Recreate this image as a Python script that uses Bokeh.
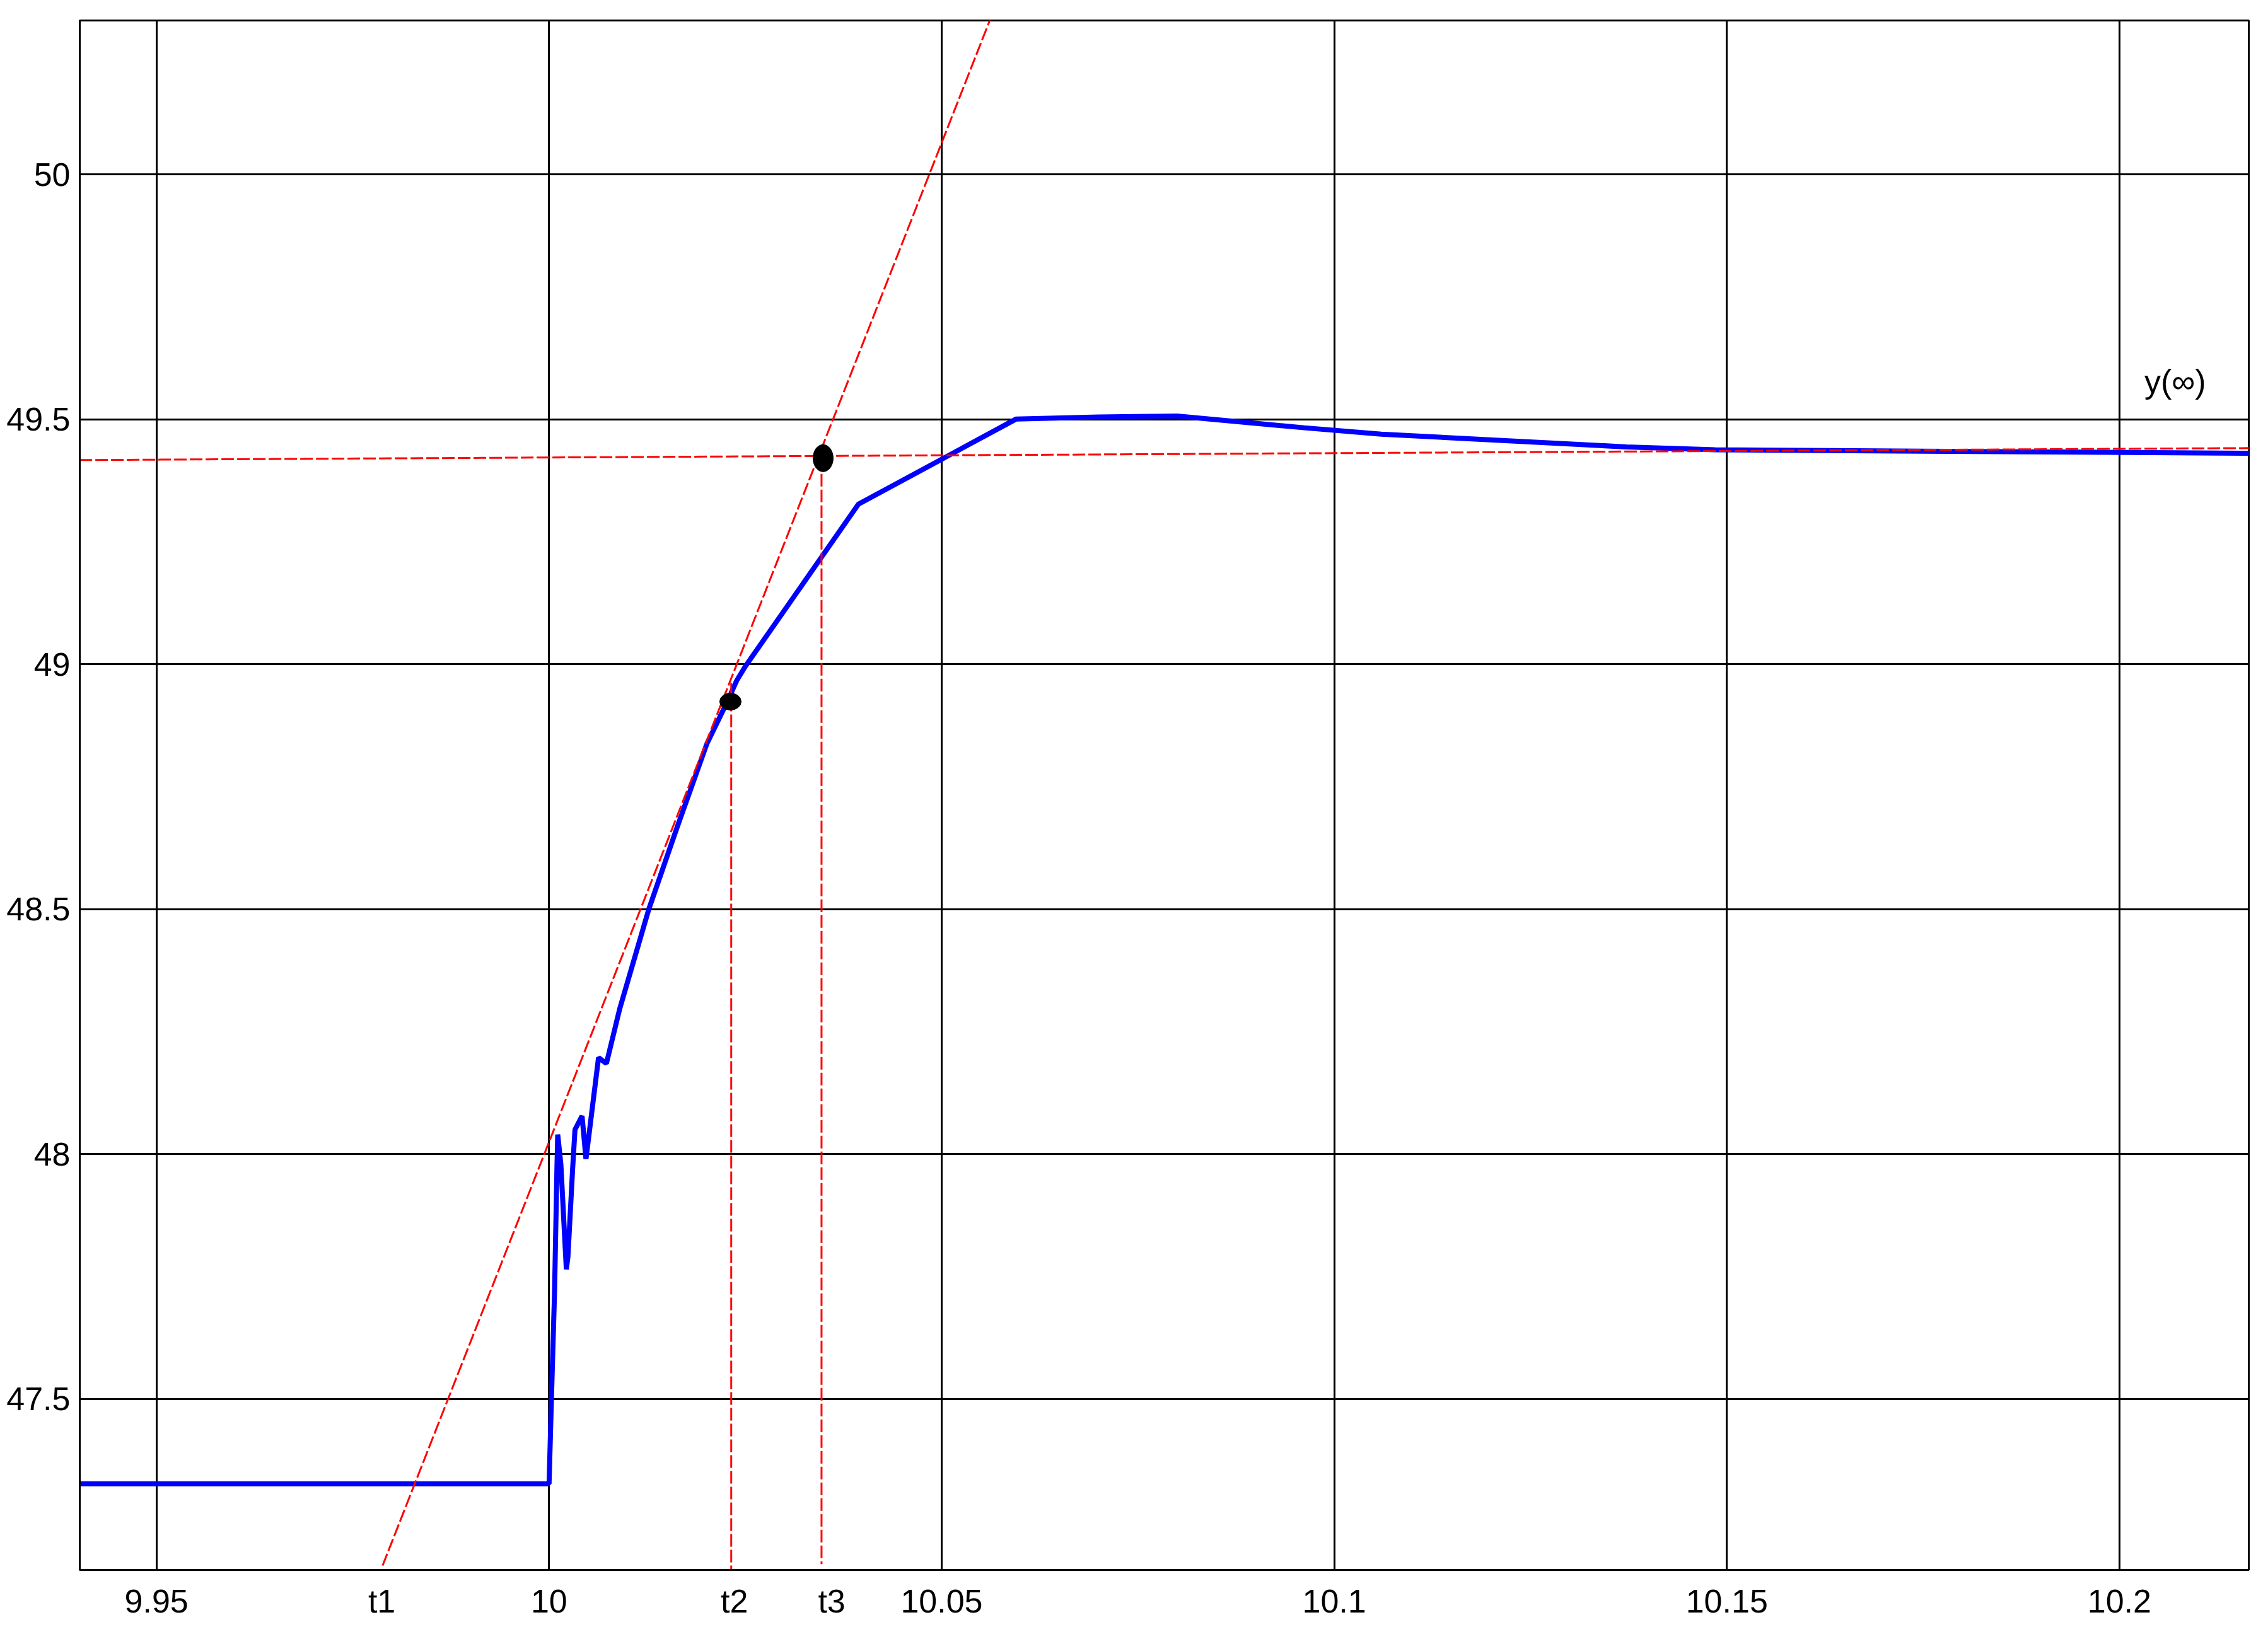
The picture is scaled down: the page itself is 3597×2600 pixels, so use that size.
from bokeh.plotting import figure
from bokeh.models import FixedTicker, Range1d
from bokeh.core.properties import value
from bokeh.embed import file_html
from bokeh.resources import INLINE

FONT = "Liberation Sans"

# ---- data ----
x_ticks = [9.95, 10.0, 10.05, 10.1, 10.15, 10.2]
x_tick_labels = ["9.95", "10", "10.05", "10.1", "10.15", "10.2"]
y_ticks = [47.5, 48.0, 48.5, 49.0, 49.5, 50.0]
y_tick_labels = ["47.5", "48", "48.5", "49", "49.5", "50"]

t_names = ["t1", "t2", "t3"]
t_label_x = [9.9787, 10.0236, 10.0360]

# blue response curve
resp_t = [9.9402, 10.0000, 10.0003, 10.0007, 10.0010, 10.0011, 10.0015, 10.0022,
          10.0024, 10.0030, 10.0033, 10.0042, 10.0047, 10.0063, 10.0073, 10.0090,
          10.0127, 10.0163, 10.0201, 10.0227, 10.0239, 10.0250, 10.0394, 10.0595,
          10.0700, 10.0800, 10.0962, 10.1060, 10.1372, 10.1485, 10.2165]
resp_y = [47.327, 47.327, 47.500, 47.720, 47.970, 48.040, 47.980, 47.765,
          47.790, 47.970, 48.050, 48.078, 47.990, 48.197, 48.185, 48.297,
          48.500, 48.667, 48.838, 48.924, 48.967, 48.996, 49.327, 49.501,
          49.505, 49.507, 49.483, 49.470, 49.444, 49.438, 49.431]

# steady-state line y(inf)
ss_x = [9.9402, 10.2172]
ss_y = [49.4171, 49.4416]

# tangent line
tan_x = [9.9788, 10.0566]
tan_y = [47.160, 50.334]

# vertical markers at t2, t3
v2_x = [10.0232, 10.0232]
v2_y = [48.962, 47.10]
v3_x = [10.0347, 10.0347]
v3_y = [49.421, 47.163]

# black dots
dot_x = [10.0231, 10.0349]
dot_y = [48.924, 49.421]
dot_w = [34, 32]
dot_h = [27, 43]

label_x = [10.2071]
label_y = [49.578]
label_text = ["y(\u221e)"]

# ---- figure ----
p = figure(frame_width=3440, frame_height=2458,
           x_range=Range1d(9.94023, 10.21647), y_range=Range1d(47.151, 50.3146),
           output_backend="svg", toolbar_location=None,
           min_border_left=126, min_border_top=32, min_border_right=25, min_border_bottom=90)
p.background_fill_color = "white"
p.border_fill_color = "white"
p.outline_line_color = "black"
p.outline_line_width = 3

xov = {t: l for t, l in zip(x_ticks, x_tick_labels)}
xov.update({t: l for t, l in zip(t_label_x, t_names)})
p.xaxis.ticker = FixedTicker(ticks=x_ticks + t_label_x)
p.xaxis.major_label_overrides = xov
p.yaxis.ticker = FixedTicker(ticks=y_ticks)
p.yaxis.major_label_overrides = {t: l for t, l in zip(y_ticks, y_tick_labels)}

for ax in (p.xaxis, p.yaxis):
    ax.major_tick_line_color = None
    ax.minor_tick_line_color = None
    ax.major_tick_in = 0
    ax.major_tick_out = 0
    ax.axis_line_color = "black"
    ax.axis_line_width = 3
    ax.major_label_text_font = FONT
    ax.major_label_text_font_size = "52px"
    ax.major_label_text_color = "black"
p.xaxis.major_label_standoff = 20
p.yaxis.major_label_standoff = 15

p.xgrid.ticker = FixedTicker(ticks=x_ticks)
p.ygrid.ticker = FixedTicker(ticks=y_ticks)
for g in (p.xgrid, p.ygrid):
    g.grid_line_color = "black"
    g.grid_line_width = 3
    g.grid_line_alpha = 1.0

p.line(resp_t, resp_y, line_color="#0000FF", line_width=8)
p.line(ss_x, ss_y, line_color="#FF0000", line_width=3, line_dash="20 5")
p.line(tan_x, tan_y, line_color="#FF0000", line_width=3, line_dash="20 5")
p.line(v2_x, v2_y, line_color="#FF0000", line_width=3, line_dash="20 5")
p.line(v3_x, v3_y, line_color="#FF0000", line_width=3, line_dash="20 5")
p.ellipse(x=dot_x, y=dot_y, width=dot_w, height=dot_h,
          width_units="screen", height_units="screen",
          fill_color="black", line_color="black")
p.text(x=label_x, y=label_y, text=label_text, text_font=value(FONT),
       text_font_size="52px", text_align="center", text_baseline="middle",
       text_color="black")

open("out.html", "w").write(file_html(p, INLINE))
